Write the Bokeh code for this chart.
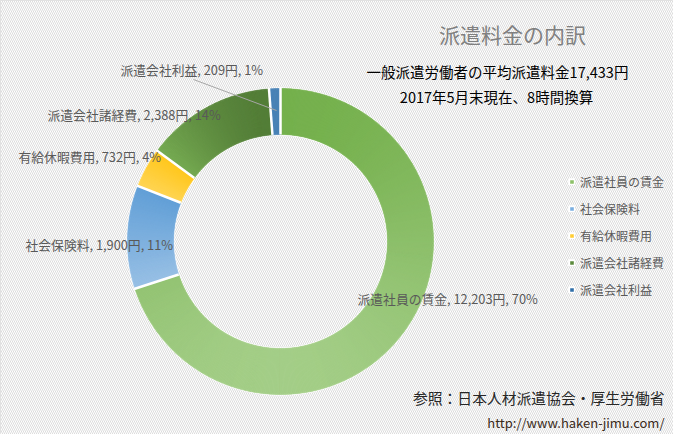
import math
from bokeh.plotting import figure
from bokeh.models import Range1d, ColumnDataSource, Legend, LegendItem
from bokeh.core.properties import value
from bokeh.embed import file_html
from bokeh.resources import INLINE

categories = ["派遣社員の賃金", "社会保険料", "有給休暇費用", "派遣会社諸経費", "派遣会社利益"]
amounts = [12203, 1900, 732, 2388, 209]
percents = [70, 11, 4, 14, 1]
colors = ["#8cc068", "#7aaee0", "#ffcc33", "#5b8a3c", "#2f6ea8"]
grad_top = ["#70ad47", "#5b9bd5", "#ffc000", "#43682b", "#255e91"]
grad_bottom = ["#a9d18e", "#9dc3e6", "#ffd966", "#80b85a", "#6fa8dc"]

# label anchor positions (pixel coords from top-left)
label_px = [(357, 298), (25, 244), (18, 156), (47, 114), (120, 69)]

W, H = 673, 434
FONT = "Noto Sans CJK JP"


def hex2rgb(h):
    h = h.lstrip("#")
    return tuple(int(h[i:i + 2], 16) for i in (0, 2, 4))


def mix(c1, c2, t):
    a, b = hex2rgb(c1), hex2rgb(c2)
    t = max(0.0, min(1.0, t))
    return "#%02x%02x%02x" % tuple(int(round(a[i] + (b[i] - a[i]) * t)) for i in range(3))


p = figure(width=W, height=H, output_backend="svg", toolbar_location=None,
           x_range=Range1d(0, W), y_range=Range1d(0, H), min_border=0)
p.axis.visible = False
p.grid.visible = False
p.outline_line_color = "#d9d9d9"
p.background_fill_color = "white"
p.border_fill_color = "white"

# striped background
p.rect(x=[W / 2], y=[H / 2], width=[W], height=[H], fill_color="white",
       line_color=None, hatch_pattern="\\", hatch_color="#dcdcdc",
       hatch_weight=1, hatch_scale=4)

cx, cy = 280, H - 241
r_in, r_out = 107, 153
total = sum(amounts)
starts, ends = [], []
cum = 0.0
for a in amounts:
    s = cum / total
    cum += a
    e = cum / total
    # clockwise from top
    starts.append(math.pi / 2 - e * 2 * math.pi)
    ends.append(math.pi / 2 - s * 2 * math.pi)

src = ColumnDataSource(dict(x=[cx] * 5, y=[cy] * 5, start=starts, end=ends,
                            color=colors, cat=categories))
wr = p.annular_wedge(x="x", y="y", inner_radius=r_in, outer_radius=r_out,
                     start_angle="start", end_angle="end", direction="anticlock",
                     fill_color="color", line_color="white", line_width=2,
                     source=src)

# vertical gradient fill, approximated with thin sub-wedges
gx, gy, gs, ge, gc = [], [], [], [], []
for i in range(len(amounts)):
    a0, a1 = starts[i], ends[i]
    n = max(2, int(math.degrees(a1 - a0) / 0.5))
    samples = [a0 + (a1 - a0) * k / 40 for k in range(41)]
    ys = [cy + r * math.sin(t) for t in samples for r in (r_in, r_out)]
    ytop, ybot = max(ys), min(ys)
    for k in range(n):
        s = a0 + (a1 - a0) * k / n
        e = a0 + (a1 - a0) * (k + 1) / n
        m = (s + e) / 2
        ym = cy + (r_in + r_out) / 2 * math.sin(m)
        t = (ytop - ym) / (ytop - ybot) if ytop > ybot else 0
        gx.append(cx); gy.append(cy); gs.append(s); ge.append(e)
        gc.append(mix(grad_top[i], grad_bottom[i], t))
gsrc = ColumnDataSource(dict(x=gx, y=gy, start=gs, end=ge, color=gc))
p.annular_wedge(x="x", y="y", inner_radius=r_in, outer_radius=r_out,
                start_angle="start", end_angle="end", direction="anticlock",
                fill_color="color", line_color="color", line_width=0.6,
                source=gsrc)

# white separators between slices
sep = starts
p.segment(x0=[cx + r_in * math.cos(a) for a in sep],
          y0=[cy + r_in * math.sin(a) for a in sep],
          x1=[cx + (r_out + 1) * math.cos(a) for a in sep],
          y1=[cy + (r_out + 1) * math.sin(a) for a in sep],
          line_color="white", line_width=2.5)

# leader line for the small slice
p.line(x=[193, 276], y=[H - 79, H - 110], line_color="#a6a6a6", line_width=1)

labels = [f"{c}, {a:,}円, {pc}%" for c, a, pc in zip(categories, amounts, percents)]
p.text(x=[lp[0] for lp in label_px], y=[H - lp[1] for lp in label_px], text=labels,
       text_font=value(FONT), text_font_size="12.8px", text_color="#595959",
       text_baseline="middle", text_align="left")

# titles
p.text(x=[512], y=[H - 33], text=["派遣料金の内訳"], text_font=value(FONT),
       text_font_size="21px", text_color="#808080", text_align="center",
       text_baseline="middle")
p.text(x=[497, 496], y=[H - 71, H - 96],
       text=["一般派遣労働者の平均派遣料金17,433円", "2017年5月末現在、8時間換算"],
       text_font=value(FONT), text_font_size="14.5px", text_color="#000000",
       text_align="center", text_baseline="middle")
p.text(x=[664], y=[H - 397], text=["参照：日本人材派遣協会・厚生労働省"],
       text_font=value(FONT), text_font_size="14.8px", text_color="#262626",
       text_align="right", text_baseline="middle")
p.text(x=[664], y=[H - 422], text=["http://www.haken-jimu.com/"],
       text_font=value(FONT), text_font_size="13px", text_color="#3a2a1a",
       text_align="right", text_baseline="middle")

legend = Legend(items=[LegendItem(label=c, renderers=[wr], index=i)
                       for i, c in enumerate(categories)],
                location=(568, 136), orientation="vertical")
legend.label_text_font = FONT
legend.label_text_font_size = "12px"
legend.label_text_color = "#595959"
legend.background_fill_alpha = 0
legend.border_line_color = None
legend.glyph_width = 7
legend.glyph_height = 7
legend.label_height = 15
legend.spacing = 10
legend.padding = 0
legend.margin = 0
legend.label_standoff = 5
p.add_layout(legend, "center")

open("out.html", "w").write(file_html(p, INLINE))
